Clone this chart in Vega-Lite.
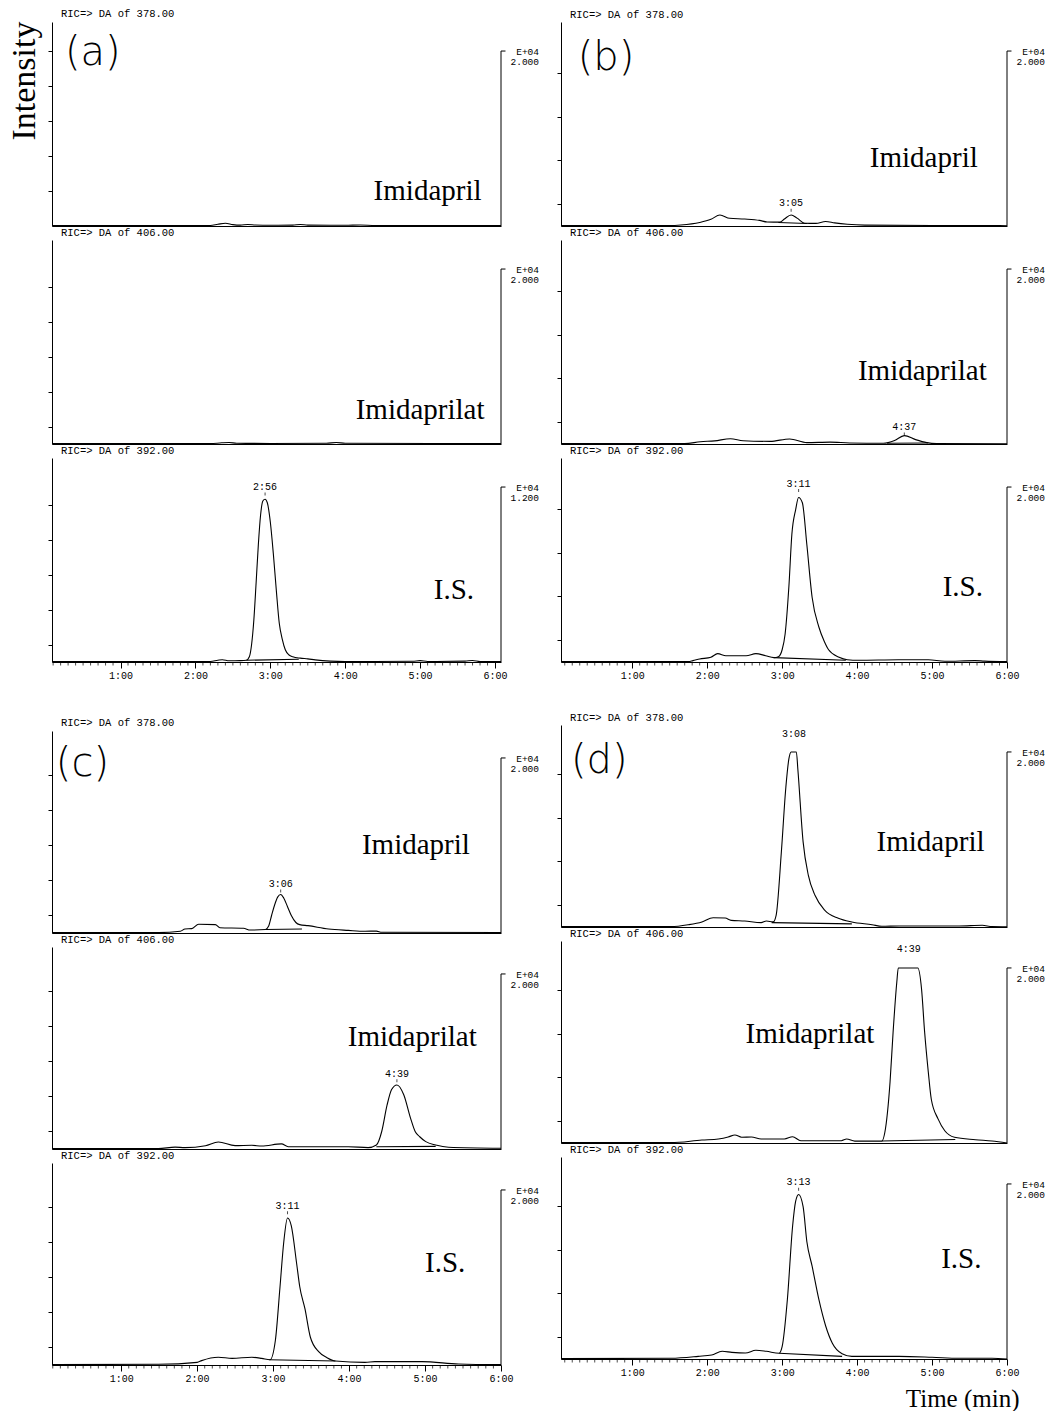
{
"$schema": "https://vega.github.io/schema/vega-lite/v6.json",
"background": "white",
"padding": {"left": 7, "top": 8, "right": 5, "bottom": 0},
"datasets": {
"trace": [
{"p":"a","s":1,"k":"sig","t":0.09,"v":0.2},{"p":"a","s":1,"k":"sig","t":1.5,"v":0.2},{"p":"a","s":1,"k":"sig","t":2.2,"v":0.3},{"p":"a","s":1,"k":"sig","t":2.3,"v":1.0},{"p":"a","s":1,"k":"sig","t":2.4,"v":1.6},{"p":"a","s":1,"k":"sig","t":2.5,"v":0.8},{"p":"a","s":1,"k":"sig","t":2.6,"v":0.5},{"p":"a","s":1,"k":"sig","t":2.7,"v":0.9},{"p":"a","s":1,"k":"sig","t":2.8,"v":0.6},{"p":"a","s":1,"k":"sig","t":3.0,"v":0.4},{"p":"a","s":1,"k":"sig","t":3.3,"v":0.5},{"p":"a","s":1,"k":"sig","t":3.4,"v":0.9},{"p":"a","s":1,"k":"sig","t":3.5,"v":0.5},{"p":"a","s":1,"k":"sig","t":4.0,"v":0.4},{"p":"a","s":1,"k":"sig","t":4.2,"v":0.6},{"p":"a","s":1,"k":"sig","t":4.4,"v":0.3},{"p":"a","s":1,"k":"sig","t":5.0,"v":0.3},{"p":"a","s":1,"k":"sig","t":6.08,"v":0.2},
{"p":"a","s":2,"k":"sig","t":0.09,"v":0.2},{"p":"a","s":2,"k":"sig","t":2.2,"v":0.2},{"p":"a","s":2,"k":"sig","t":2.35,"v":0.7},{"p":"a","s":2,"k":"sig","t":2.45,"v":0.9},{"p":"a","s":2,"k":"sig","t":2.55,"v":0.4},{"p":"a","s":2,"k":"sig","t":3.0,"v":0.3},{"p":"a","s":2,"k":"sig","t":3.75,"v":0.4},{"p":"a","s":2,"k":"sig","t":3.88,"v":0.9},{"p":"a","s":2,"k":"sig","t":4.0,"v":0.4},{"p":"a","s":2,"k":"sig","t":6.08,"v":0.2},
{"p":"a","s":3,"k":"sig","t":0.09,"v":0.2},{"p":"a","s":3,"k":"sig","t":2.2,"v":0.3},{"p":"a","s":3,"k":"sig","t":2.3,"v":1.0},{"p":"a","s":3,"k":"sig","t":2.36,"v":1.3},{"p":"a","s":3,"k":"sig","t":2.45,"v":0.7},{"p":"a","s":3,"k":"sig","t":2.6,"v":0.8},{"p":"a","s":3,"k":"sig","t":2.68,"v":1.0},{"p":"a","s":3,"k":"sig","t":2.72,"v":3},{"p":"a","s":3,"k":"sig","t":2.75,"v":10},{"p":"a","s":3,"k":"sig","t":2.78,"v":24},{"p":"a","s":3,"k":"sig","t":2.81,"v":45},{"p":"a","s":3,"k":"sig","t":2.84,"v":67},{"p":"a","s":3,"k":"sig","t":2.87,"v":84},{"p":"a","s":3,"k":"sig","t":2.9,"v":92},{"p":"a","s":3,"k":"sig","t":2.93,"v":93},{"p":"a","s":3,"k":"sig","t":2.96,"v":91},{"p":"a","s":3,"k":"sig","t":3.0,"v":80},{"p":"a","s":3,"k":"sig","t":3.04,"v":62},{"p":"a","s":3,"k":"sig","t":3.08,"v":41},{"p":"a","s":3,"k":"sig","t":3.12,"v":22},{"p":"a","s":3,"k":"sig","t":3.16,"v":13},{"p":"a","s":3,"k":"sig","t":3.2,"v":7},{"p":"a","s":3,"k":"sig","t":3.25,"v":4},{"p":"a","s":3,"k":"sig","t":3.3,"v":3},{"p":"a","s":3,"k":"sig","t":3.4,"v":2.2},{"p":"a","s":3,"k":"sig","t":3.5,"v":1.8},{"p":"a","s":3,"k":"sig","t":3.6,"v":1.2},{"p":"a","s":3,"k":"sig","t":3.8,"v":0.5},{"p":"a","s":3,"k":"sig","t":4.0,"v":0.3},{"p":"a","s":3,"k":"sig","t":4.9,"v":0.4},{"p":"a","s":3,"k":"sig","t":5.0,"v":0.8},{"p":"a","s":3,"k":"sig","t":5.1,"v":0.3},{"p":"a","s":3,"k":"sig","t":5.6,"v":0.5},{"p":"a","s":3,"k":"sig","t":5.7,"v":0.9},{"p":"a","s":3,"k":"sig","t":5.8,"v":0.3},{"p":"a","s":3,"k":"sig","t":6.08,"v":0.2},
{"p":"a","s":3,"k":"base","t":2.68,"v":1.0},{"p":"a","s":3,"k":"base","t":3.38,"v":1.6},
{"p":"b","s":1,"k":"sig","t":0.05,"v":0.2},{"p":"b","s":1,"k":"sig","t":1.5,"v":0.3},{"p":"b","s":1,"k":"sig","t":1.65,"v":0.6},{"p":"b","s":1,"k":"sig","t":1.9,"v":2.0},{"p":"b","s":1,"k":"sig","t":2.05,"v":3.8},{"p":"b","s":1,"k":"sig","t":2.17,"v":6.3},{"p":"b","s":1,"k":"sig","t":2.3,"v":4.4},{"p":"b","s":1,"k":"sig","t":2.5,"v":4.0},{"p":"b","s":1,"k":"sig","t":2.7,"v":3.2},{"p":"b","s":1,"k":"sig","t":2.8,"v":2.3},{"p":"b","s":1,"k":"sig","t":2.97,"v":2.2},{"p":"b","s":1,"k":"sig","t":3.03,"v":4},{"p":"b","s":1,"k":"sig","t":3.12,"v":6.3},{"p":"b","s":1,"k":"sig","t":3.2,"v":4.5},{"p":"b","s":1,"k":"sig","t":3.3,"v":1.6},{"p":"b","s":1,"k":"sig","t":3.45,"v":1.5},{"p":"b","s":1,"k":"sig","t":3.58,"v":2.6},{"p":"b","s":1,"k":"sig","t":3.7,"v":1.8},{"p":"b","s":1,"k":"sig","t":3.87,"v":1.0},{"p":"b","s":1,"k":"sig","t":4.1,"v":0.5},{"p":"b","s":1,"k":"sig","t":5.0,"v":0.3},{"p":"b","s":1,"k":"sig","t":5.9,"v":0.3},{"p":"b","s":1,"k":"sig","t":6.0,"v":0.1},
{"p":"b","s":1,"k":"base","t":2.95,"v":2.0},{"p":"b","s":1,"k":"base","t":3.33,"v":1.4},
{"p":"b","s":2,"k":"sig","t":0.05,"v":0.2},{"p":"b","s":2,"k":"sig","t":1.7,"v":0.2},{"p":"b","s":2,"k":"sig","t":1.91,"v":1.3},{"p":"b","s":2,"k":"sig","t":2.1,"v":1.8},{"p":"b","s":2,"k":"sig","t":2.31,"v":3.0},{"p":"b","s":2,"k":"sig","t":2.48,"v":1.9},{"p":"b","s":2,"k":"sig","t":2.84,"v":1.5},{"p":"b","s":2,"k":"sig","t":3.1,"v":2.9},{"p":"b","s":2,"k":"sig","t":3.33,"v":0.8},{"p":"b","s":2,"k":"sig","t":3.64,"v":1.1},{"p":"b","s":2,"k":"sig","t":3.9,"v":0.6},{"p":"b","s":2,"k":"sig","t":4.35,"v":0.4},{"p":"b","s":2,"k":"sig","t":4.5,"v":2.0},{"p":"b","s":2,"k":"sig","t":4.63,"v":4.8},{"p":"b","s":2,"k":"sig","t":4.78,"v":2.5},{"p":"b","s":2,"k":"sig","t":4.93,"v":0.8},{"p":"b","s":2,"k":"sig","t":5.06,"v":0.3},{"p":"b","s":2,"k":"sig","t":6.0,"v":0.1},
{"p":"b","s":2,"k":"base","t":4.4,"v":0.4},{"p":"b","s":2,"k":"base","t":4.95,"v":0.6},
{"p":"b","s":3,"k":"sig","t":0.05,"v":0.2},{"p":"b","s":3,"k":"sig","t":1.75,"v":0.3},{"p":"b","s":3,"k":"sig","t":1.81,"v":0.8},{"p":"b","s":3,"k":"sig","t":1.9,"v":1.7},{"p":"b","s":3,"k":"sig","t":2.05,"v":2.7},{"p":"b","s":3,"k":"sig","t":2.14,"v":4.8},{"p":"b","s":3,"k":"sig","t":2.25,"v":3.6},{"p":"b","s":3,"k":"sig","t":2.52,"v":3.6},{"p":"b","s":3,"k":"sig","t":2.65,"v":4.8},{"p":"b","s":3,"k":"sig","t":2.78,"v":3.6},{"p":"b","s":3,"k":"sig","t":2.89,"v":2.5},{"p":"b","s":3,"k":"sig","t":2.95,"v":3},{"p":"b","s":3,"k":"sig","t":3.0,"v":7},{"p":"b","s":3,"k":"sig","t":3.04,"v":16},{"p":"b","s":3,"k":"sig","t":3.09,"v":43},{"p":"b","s":3,"k":"sig","t":3.13,"v":73},{"p":"b","s":3,"k":"sig","t":3.18,"v":87},{"p":"b","s":3,"k":"sig","t":3.22,"v":94},{"p":"b","s":3,"k":"sig","t":3.27,"v":91},{"p":"b","s":3,"k":"sig","t":3.33,"v":67},{"p":"b","s":3,"k":"sig","t":3.4,"v":37},{"p":"b","s":3,"k":"sig","t":3.49,"v":20},{"p":"b","s":3,"k":"sig","t":3.56,"v":12},{"p":"b","s":3,"k":"sig","t":3.62,"v":7},{"p":"b","s":3,"k":"sig","t":3.76,"v":2.7},{"p":"b","s":3,"k":"sig","t":3.87,"v":1.3},{"p":"b","s":3,"k":"sig","t":4.02,"v":1.0},{"p":"b","s":3,"k":"sig","t":4.55,"v":1.3},{"p":"b","s":3,"k":"sig","t":4.95,"v":1.3},{"p":"b","s":3,"k":"sig","t":5.17,"v":0.4},{"p":"b","s":3,"k":"sig","t":5.57,"v":0.8},{"p":"b","s":3,"k":"sig","t":5.7,"v":0.5},{"p":"b","s":3,"k":"sig","t":6.0,"v":0.2},
{"p":"b","s":3,"k":"base","t":2.89,"v":2.5},{"p":"b","s":3,"k":"base","t":3.85,"v":1.0},
{"p":"c","s":1,"k":"sig","t":0.09,"v":0.2},{"p":"c","s":1,"k":"sig","t":1.49,"v":0.2},{"p":"c","s":1,"k":"sig","t":1.78,"v":1.0},{"p":"c","s":1,"k":"sig","t":1.84,"v":2.3},{"p":"c","s":1,"k":"sig","t":1.93,"v":2.5},{"p":"c","s":1,"k":"sig","t":2.02,"v":5},{"p":"c","s":1,"k":"sig","t":2.24,"v":4.8},{"p":"c","s":1,"k":"sig","t":2.3,"v":3},{"p":"c","s":1,"k":"sig","t":2.61,"v":2.7},{"p":"c","s":1,"k":"sig","t":2.7,"v":1.7},{"p":"c","s":1,"k":"sig","t":2.9,"v":2.0},{"p":"c","s":1,"k":"sig","t":2.94,"v":3.8},{"p":"c","s":1,"k":"sig","t":2.98,"v":10},{"p":"c","s":1,"k":"sig","t":3.02,"v":16},{"p":"c","s":1,"k":"sig","t":3.06,"v":20.5},{"p":"c","s":1,"k":"sig","t":3.1,"v":22},{"p":"c","s":1,"k":"sig","t":3.14,"v":20},{"p":"c","s":1,"k":"sig","t":3.19,"v":15},{"p":"c","s":1,"k":"sig","t":3.24,"v":10},{"p":"c","s":1,"k":"sig","t":3.3,"v":6},{"p":"c","s":1,"k":"sig","t":3.35,"v":4.8},{"p":"c","s":1,"k":"sig","t":3.46,"v":4.2},{"p":"c","s":1,"k":"sig","t":3.73,"v":2.3},{"p":"c","s":1,"k":"sig","t":3.99,"v":1.5},{"p":"c","s":1,"k":"sig","t":4.21,"v":1.0},{"p":"c","s":1,"k":"sig","t":4.36,"v":1.1},{"p":"c","s":1,"k":"sig","t":4.43,"v":0.4},{"p":"c","s":1,"k":"sig","t":6.0,"v":0.3},
{"p":"c","s":1,"k":"base","t":2.9,"v":2.0},{"p":"c","s":1,"k":"base","t":3.38,"v":2.3},
{"p":"c","s":2,"k":"sig","t":0.09,"v":0.2},{"p":"c","s":2,"k":"sig","t":1.49,"v":0.2},{"p":"c","s":2,"k":"sig","t":1.71,"v":1.1},{"p":"c","s":2,"k":"sig","t":1.84,"v":0.8},{"p":"c","s":2,"k":"sig","t":2.11,"v":1.9},{"p":"c","s":2,"k":"sig","t":2.28,"v":4},{"p":"c","s":2,"k":"sig","t":2.5,"v":1.9},{"p":"c","s":2,"k":"sig","t":2.72,"v":2.1},{"p":"c","s":2,"k":"sig","t":2.85,"v":1.7},{"p":"c","s":2,"k":"sig","t":3.11,"v":2.9},{"p":"c","s":2,"k":"sig","t":3.2,"v":1.3},{"p":"c","s":2,"k":"sig","t":3.99,"v":1.3},{"p":"c","s":2,"k":"sig","t":4.25,"v":0.8},{"p":"c","s":2,"k":"sig","t":4.36,"v":2.3},{"p":"c","s":2,"k":"sig","t":4.43,"v":10},{"p":"c","s":2,"k":"sig","t":4.5,"v":25},{"p":"c","s":2,"k":"sig","t":4.56,"v":34},{"p":"c","s":2,"k":"sig","t":4.63,"v":36.6},{"p":"c","s":2,"k":"sig","t":4.72,"v":31},{"p":"c","s":2,"k":"sig","t":4.81,"v":17.5},{"p":"c","s":2,"k":"sig","t":4.87,"v":10},{"p":"c","s":2,"k":"sig","t":4.93,"v":7},{"p":"c","s":2,"k":"sig","t":5.01,"v":4.2},{"p":"c","s":2,"k":"sig","t":5.14,"v":2.3},{"p":"c","s":2,"k":"sig","t":5.31,"v":1.0},{"p":"c","s":2,"k":"sig","t":6.0,"v":0.4},
{"p":"c","s":2,"k":"base","t":4.36,"v":1.3},{"p":"c","s":2,"k":"base","t":5.14,"v":1.5},
{"p":"c","s":3,"k":"sig","t":0.09,"v":0.2},{"p":"c","s":3,"k":"sig","t":1.49,"v":0.4},{"p":"c","s":3,"k":"sig","t":2.0,"v":1.5},{"p":"c","s":3,"k":"sig","t":2.06,"v":2.5},{"p":"c","s":3,"k":"sig","t":2.28,"v":4.4},{"p":"c","s":3,"k":"sig","t":2.46,"v":3.8},{"p":"c","s":3,"k":"sig","t":2.72,"v":4.4},{"p":"c","s":3,"k":"sig","t":2.85,"v":3.8},{"p":"c","s":3,"k":"sig","t":2.96,"v":3},{"p":"c","s":3,"k":"sig","t":3.03,"v":14},{"p":"c","s":3,"k":"sig","t":3.09,"v":44},{"p":"c","s":3,"k":"sig","t":3.14,"v":70},{"p":"c","s":3,"k":"sig","t":3.19,"v":84},{"p":"c","s":3,"k":"sig","t":3.24,"v":79.5},{"p":"c","s":3,"k":"sig","t":3.31,"v":58},{"p":"c","s":3,"k":"sig","t":3.35,"v":45},{"p":"c","s":3,"k":"sig","t":3.42,"v":32},{"p":"c","s":3,"k":"sig","t":3.49,"v":16},{"p":"c","s":3,"k":"sig","t":3.6,"v":7.6},{"p":"c","s":3,"k":"sig","t":3.71,"v":4.2},{"p":"c","s":3,"k":"sig","t":3.82,"v":2.3},{"p":"c","s":3,"k":"sig","t":4.21,"v":1.5},{"p":"c","s":3,"k":"sig","t":4.34,"v":1.9},{"p":"c","s":3,"k":"sig","t":4.96,"v":1.9},{"p":"c","s":3,"k":"sig","t":5.44,"v":0.6},{"p":"c","s":3,"k":"sig","t":6.0,"v":0.2},
{"p":"c","s":3,"k":"base","t":2.95,"v":3.0},{"p":"c","s":3,"k":"base","t":3.82,"v":2.3},
{"p":"d","s":1,"k":"sig","t":0.05,"v":0.2},{"p":"d","s":1,"k":"sig","t":1.52,"v":0.2},{"p":"d","s":1,"k":"sig","t":1.75,"v":1.3},{"p":"d","s":1,"k":"sig","t":1.93,"v":2.9},{"p":"d","s":1,"k":"sig","t":2.08,"v":5.3},{"p":"d","s":1,"k":"sig","t":2.24,"v":5.1},{"p":"d","s":1,"k":"sig","t":2.32,"v":3.8},{"p":"d","s":1,"k":"sig","t":2.5,"v":3.4},{"p":"d","s":1,"k":"sig","t":2.72,"v":2.5},{"p":"d","s":1,"k":"sig","t":2.79,"v":3.4},{"p":"d","s":1,"k":"sig","t":2.88,"v":2.9},{"p":"d","s":1,"k":"sig","t":2.92,"v":6.7},{"p":"d","s":1,"k":"sig","t":2.99,"v":43},{"p":"d","s":1,"k":"sig","t":3.05,"v":80},{"p":"d","s":1,"k":"sig","t":3.09,"v":96},{"p":"d","s":1,"k":"sig","t":3.12,"v":100},{"p":"d","s":1,"k":"sig","t":3.19,"v":100},{"p":"d","s":1,"k":"sig","t":3.21,"v":90},{"p":"d","s":1,"k":"sig","t":3.28,"v":48.6},{"p":"d","s":1,"k":"sig","t":3.35,"v":29.5},{"p":"d","s":1,"k":"sig","t":3.44,"v":18},{"p":"d","s":1,"k":"sig","t":3.57,"v":9.5},{"p":"d","s":1,"k":"sig","t":3.75,"v":5},{"p":"d","s":1,"k":"sig","t":3.93,"v":2.9},{"p":"d","s":1,"k":"sig","t":4.2,"v":1.3},{"p":"d","s":1,"k":"sig","t":4.33,"v":0.4},{"p":"d","s":1,"k":"sig","t":4.56,"v":0.6},{"p":"d","s":1,"k":"sig","t":5.36,"v":0.6},{"p":"d","s":1,"k":"sig","t":5.67,"v":1.0},{"p":"d","s":1,"k":"sig","t":5.8,"v":0.2},{"p":"d","s":1,"k":"sig","t":6.0,"v":0.1},
{"p":"d","s":1,"k":"base","t":2.86,"v":2.5},{"p":"d","s":1,"k":"base","t":3.93,"v":1.8},
{"p":"d","s":2,"k":"sig","t":0.05,"v":0.2},{"p":"d","s":2,"k":"sig","t":1.52,"v":0.2},{"p":"d","s":2,"k":"sig","t":1.93,"v":1.7},{"p":"d","s":2,"k":"sig","t":2.15,"v":2.3},{"p":"d","s":2,"k":"sig","t":2.28,"v":3.4},{"p":"d","s":2,"k":"sig","t":2.37,"v":4.6},{"p":"d","s":2,"k":"sig","t":2.46,"v":3.3},{"p":"d","s":2,"k":"sig","t":2.59,"v":3.4},{"p":"d","s":2,"k":"sig","t":2.72,"v":2.3},{"p":"d","s":2,"k":"sig","t":3.03,"v":2.3},{"p":"d","s":2,"k":"sig","t":3.14,"v":3.6},{"p":"d","s":2,"k":"sig","t":3.25,"v":1.3},{"p":"d","s":2,"k":"sig","t":3.79,"v":1.3},{"p":"d","s":2,"k":"sig","t":3.86,"v":2.3},{"p":"d","s":2,"k":"sig","t":3.97,"v":1.1},{"p":"d","s":2,"k":"sig","t":4.33,"v":1.1},{"p":"d","s":2,"k":"sig","t":4.37,"v":6},{"p":"d","s":2,"k":"sig","t":4.44,"v":35},{"p":"d","s":2,"k":"sig","t":4.48,"v":63},{"p":"d","s":2,"k":"sig","t":4.53,"v":92},{"p":"d","s":2,"k":"sig","t":4.55,"v":100},{"p":"d","s":2,"k":"sig","t":4.81,"v":100},{"p":"d","s":2,"k":"sig","t":4.86,"v":88},{"p":"d","s":2,"k":"sig","t":4.9,"v":64},{"p":"d","s":2,"k":"sig","t":4.95,"v":40.6},{"p":"d","s":2,"k":"sig","t":4.99,"v":25},{"p":"d","s":2,"k":"sig","t":5.08,"v":13.8},{"p":"d","s":2,"k":"sig","t":5.17,"v":7},{"p":"d","s":2,"k":"sig","t":5.3,"v":3.3},{"p":"d","s":2,"k":"sig","t":5.58,"v":1.9},{"p":"d","s":2,"k":"sig","t":5.8,"v":1.1},{"p":"d","s":2,"k":"sig","t":6.0,"v":0},
{"p":"d","s":2,"k":"base","t":4.33,"v":1.1},{"p":"d","s":2,"k":"base","t":5.31,"v":2.0},
{"p":"d","s":3,"k":"sig","t":0.05,"v":0.2},{"p":"d","s":3,"k":"sig","t":1.52,"v":0.4},{"p":"d","s":3,"k":"sig","t":1.88,"v":1.5},{"p":"d","s":3,"k":"sig","t":2.06,"v":2.3},{"p":"d","s":3,"k":"sig","t":2.2,"v":4.4},{"p":"d","s":3,"k":"sig","t":2.33,"v":3.8},{"p":"d","s":3,"k":"sig","t":2.51,"v":3.4},{"p":"d","s":3,"k":"sig","t":2.65,"v":5},{"p":"d","s":3,"k":"sig","t":2.79,"v":4.4},{"p":"d","s":3,"k":"sig","t":2.96,"v":3.3},{"p":"d","s":3,"k":"sig","t":3.0,"v":7},{"p":"d","s":3,"k":"sig","t":3.07,"v":34},{"p":"d","s":3,"k":"sig","t":3.14,"v":76},{"p":"d","s":3,"k":"sig","t":3.18,"v":90},{"p":"d","s":3,"k":"sig","t":3.22,"v":94},{"p":"d","s":3,"k":"sig","t":3.28,"v":87},{"p":"d","s":3,"k":"sig","t":3.33,"v":67},{"p":"d","s":3,"k":"sig","t":3.4,"v":53},{"p":"d","s":3,"k":"sig","t":3.49,"v":34},{"p":"d","s":3,"k":"sig","t":3.58,"v":19},{"p":"d","s":3,"k":"sig","t":3.67,"v":9},{"p":"d","s":3,"k":"sig","t":3.8,"v":3},{"p":"d","s":3,"k":"sig","t":3.93,"v":1.5},{"p":"d","s":3,"k":"sig","t":4.11,"v":1.5},{"p":"d","s":3,"k":"sig","t":4.56,"v":1.5},{"p":"d","s":3,"k":"sig","t":5.0,"v":1.0},{"p":"d","s":3,"k":"sig","t":5.36,"v":0.4},{"p":"d","s":3,"k":"sig","t":5.8,"v":0.4},{"p":"d","s":3,"k":"sig","t":6.0,"v":0},
{"p":"d","s":3,"k":"base","t":2.96,"v":3.3},{"p":"d","s":3,"k":"base","t":3.8,"v":1.5}
],
"peaks": [
{"p":"a","s":3,"t":2.93,"ly":100,"lab":"2:56"},
{"p":"b","s":1,"t":3.12,"ly":13,"lab":"3:05"},
{"p":"b","s":2,"t":4.63,"ly":9.7,"lab":"4:37"},
{"p":"b","s":3,"t":3.22,"ly":102,"lab":"3:11"},
{"p":"c","s":1,"t":3.1,"ly":28,"lab":"3:06"},
{"p":"c","s":2,"t":4.63,"ly":43,"lab":"4:39"},
{"p":"c","s":3,"t":3.19,"ly":91,"lab":"3:11"},
{"p":"d","s":1,"t":3.16,"ly":110,"lab":"3:08"},
{"p":"d","s":2,"t":4.69,"ly":111,"lab":"4:39"},
{"p":"d","s":3,"t":3.22,"ly":101,"lab":"3:13"}
],
"minor": [
{"t":0.1},{"t":0.2},{"t":0.3},{"t":0.4},{"t":0.5},{"t":0.6},{"t":0.7},{"t":0.8},{"t":0.9},{"t":1.1},{"t":1.2},{"t":1.3},{"t":1.4},{"t":1.5},{"t":1.6},{"t":1.7},{"t":1.8},{"t":1.9},{"t":2.1},{"t":2.2},{"t":2.3},{"t":2.4},{"t":2.5},{"t":2.6},{"t":2.7},{"t":2.8},{"t":2.9},{"t":3.1},{"t":3.2},{"t":3.3},{"t":3.4},{"t":3.5},{"t":3.6},{"t":3.7},{"t":3.8},{"t":3.9},{"t":4.1},{"t":4.2},{"t":4.3},{"t":4.4},{"t":4.5},{"t":4.6},{"t":4.7},{"t":4.8},{"t":4.9},{"t":5.1},{"t":5.2},{"t":5.3},{"t":5.4},{"t":5.5},{"t":5.6},{"t":5.7},{"t":5.8},{"t":5.9}
]
},
"config": {
"view": {"stroke": null},
"axis": {"grid": false, "domainColor": "black", "tickColor": "black", "labelColor": "black", "domainWidth": 1, "tickWidth": 1},
"title": {"font": "Liberation Mono", "fontSize": 10.5, "fontWeight": "normal", "anchor": "start", "frame": "group", "offset": 2, "dx": 9, "color": "black"}
},
"spacing": 17,
"hconcat": [
{"spacing": 37, "vconcat": [
{"bounds": "flush", "spacing": 14, "vconcat": [
{"width": 449, "height": 204, "title": "RIC=> DA of 378.00", "layer": [
{"data": {"name": "trace"}, "transform": [{"filter": "datum.p==='a' && datum.s===1"}], "mark": {"type": "line", "color": "black", "strokeWidth": 1.1, "interpolate": "monotone"},
 "encoding": {"x": {"field": "t", "type": "quantitative", "scale": {"domain": [0.085, 6.08], "nice": false, "zero": false}, "axis": {"ticks": false, "labels": false, "title": null}},
  "y": {"field": "v", "type": "quantitative", "scale": {"domain": [0, 116.6], "nice": false}, "axis": {"values": [20,40,60,80,100], "labels": false, "tickSize": 4, "title": "Intensity", "titleFont": "Liberation Serif", "titleFontSize": 34, "titleFontWeight": "normal", "titleColor": "black", "titleAngle": 270, "titleAlign": "right", "titleBaseline": "alphabetic", "titleX": -18, "titleY": -1}},
  "detail": {"field": "k"}}},
{"data": {"values": [{}]}, "mark": {"type": "rule", "color": "black"}, "encoding": {"x": {"datum": 6.08}, "y": {"datum": 0}, "y2": {"datum": 100}}},
{"data": {"values": [{}]}, "mark": {"type": "rule", "color": "black"}, "encoding": {"x": {"datum": 6.08}, "x2": {"datum": 6.14}, "y": {"datum": 100}}},
{"data": {"values": [{}]}, "mark": {"type": "text", "text": ["E+04", "2.000"], "align": "right", "baseline": "middle", "dx": 38, "dy": 1, "font": "Liberation Mono", "fontSize": 9.5, "lineHeight": 10, "color": "black"}, "encoding": {"x": {"datum": 6.08}, "y": {"datum": 100}}},
{"data": {"values": [{}]}, "mark": {"type": "text", "text": "Imidapril", "align": "right", "baseline": "middle", "font": "Liberation Serif", "fontSize": 29, "color": "black"}, "encoding": {"x": {"datum": 5.82}, "y": {"datum": 20}}},
{"data": {"values": [{}]}, "mark": {"type": "text", "text": "(a)", "align": "center", "baseline": "middle", "font": "DejaVu Sans", "fontWeight": 200, "fontSize": 40, "color": "black"}, "encoding": {"x": {"datum": 0.63}, "y": {"datum": 99}}}
]},
{"width": 449, "height": 204, "title": "RIC=> DA of 406.00", "layer": [
{"data": {"name": "trace"}, "transform": [{"filter": "datum.p==='a' && datum.s===2"}], "mark": {"type": "line", "color": "black", "strokeWidth": 1.1, "interpolate": "monotone"},
 "encoding": {"x": {"field": "t", "type": "quantitative", "scale": {"domain": [0.085, 6.08], "nice": false, "zero": false}, "axis": {"ticks": false, "labels": false, "title": null}},
  "y": {"field": "v", "type": "quantitative", "scale": {"domain": [0, 116.6], "nice": false}, "axis": {"values": [10,20,30,40,50,60,70,80,90,100], "labels": false, "tickSize": 4, "title": null}},
  "detail": {"field": "k"}}},
{"data": {"values": [{}]}, "mark": {"type": "rule", "color": "black"}, "encoding": {"x": {"datum": 6.08}, "y": {"datum": 0}, "y2": {"datum": 100}}},
{"data": {"values": [{}]}, "mark": {"type": "rule", "color": "black"}, "encoding": {"x": {"datum": 6.08}, "x2": {"datum": 6.14}, "y": {"datum": 100}}},
{"data": {"values": [{}]}, "mark": {"type": "text", "text": ["E+04", "2.000"], "align": "right", "baseline": "middle", "dx": 38, "dy": 1, "font": "Liberation Mono", "fontSize": 9.5, "lineHeight": 10, "color": "black"}, "encoding": {"x": {"datum": 6.08}, "y": {"datum": 100}}},
{"data": {"values": [{}]}, "mark": {"type": "text", "text": "Imidaprilat", "align": "right", "baseline": "middle", "font": "Liberation Serif", "fontSize": 29, "color": "black"}, "encoding": {"x": {"datum": 5.86}, "y": {"datum": 19.4}}}
]},
{"width": 449, "height": 204, "title": "RIC=> DA of 392.00", "layer": [
{"data": {"name": "trace"}, "transform": [{"filter": "datum.p==='a' && datum.s===3"}], "mark": {"type": "line", "color": "black", "strokeWidth": 1.1, "interpolate": "monotone"},
 "encoding": {"x": {"field": "t", "type": "quantitative", "scale": {"domain": [0.085, 6.08], "nice": false, "zero": false}, "axis": {"values": [1,2,3,4,5,6], "labelExpr": "format(datum.value,'d')+':00'", "tickSize": 6, "labelFont": "Liberation Mono", "labelFontSize": 10, "labelPadding": 2, "labelFlush": false, "title": null}},
  "y": {"field": "v", "type": "quantitative", "scale": {"domain": [0, 116.6], "nice": false}, "axis": {"values": [10,20,30,40,50,60,70,80,90,100], "labels": false, "tickSize": 4, "title": null}},
  "detail": {"field": "k"}}},
{"data": {"name": "minor"}, "mark": {"type": "tick", "orient": "vertical", "size": 3, "thickness": 1, "yOffset": 2, "color": "black"}, "encoding": {"x": {"field": "t", "type": "quantitative"}, "y": {"datum": 0}}},
{"data": {"values": [{}]}, "mark": {"type": "rule", "color": "black"}, "encoding": {"x": {"datum": 6.08}, "y": {"datum": 0}, "y2": {"datum": 100}}},
{"data": {"values": [{}]}, "mark": {"type": "rule", "color": "black"}, "encoding": {"x": {"datum": 6.08}, "x2": {"datum": 6.14}, "y": {"datum": 100}}},
{"data": {"values": [{}]}, "mark": {"type": "text", "text": ["E+04", "1.200"], "align": "right", "baseline": "middle", "dx": 38, "dy": 1, "font": "Liberation Mono", "fontSize": 9.5, "lineHeight": 10, "color": "black"}, "encoding": {"x": {"datum": 6.08}, "y": {"datum": 100}}},
{"data": {"values": [{}]}, "mark": {"type": "text", "text": "I.S.", "align": "right", "baseline": "middle", "font": "Liberation Serif", "fontSize": 29, "color": "black"}, "encoding": {"x": {"datum": 5.72}, "y": {"datum": 41}}},
{"data": {"name": "peaks"}, "transform": [{"filter": "datum.p==='a' && datum.s===3"}], "mark": {"type": "text", "baseline": "middle", "font": "Liberation Mono", "fontSize": 10, "color": "black"}, "encoding": {"x": {"field": "t", "type": "quantitative"}, "y": {"field": "ly", "type": "quantitative"}, "text": {"field": "lab"}}},
{"data": {"name": "peaks"}, "transform": [{"filter": "datum.p==='a' && datum.s===3"}], "mark": {"type": "tick", "orient": "vertical", "size": 3, "thickness": 1, "yOffset": 7, "color": "black"}, "encoding": {"x": {"field": "t", "type": "quantitative"}, "y": {"field": "ly", "type": "quantitative"}}}
]}
]},
{"bounds": "flush", "spacing": 14, "vconcat": [
{"width": 449, "height": 202, "title": "RIC=> DA of 378.00", "layer": [
{"data": {"name": "trace"}, "transform": [{"filter": "datum.p==='c' && datum.s===1"}], "mark": {"type": "line", "color": "black", "strokeWidth": 1.1, "interpolate": "monotone"},
 "encoding": {"x": {"field": "t", "type": "quantitative", "scale": {"domain": [0.09, 6.0], "nice": false, "zero": false}, "axis": {"ticks": false, "labels": false, "title": null}},
  "y": {"field": "v", "type": "quantitative", "scale": {"domain": [0, 115.4], "nice": false}, "axis": {"values": [10,20,30,40,50,60,70,80,90,100], "labels": false, "tickSize": 4, "title": "Intensity", "titleOpacity": 0, "titleFont": "Liberation Serif", "titleFontSize": 34, "titleFontWeight": "normal", "titleAngle": 270, "titleAlign": "right", "titleBaseline": "alphabetic", "titleX": -18, "titleY": -1}},
  "detail": {"field": "k"}}},
{"data": {"values": [{}]}, "mark": {"type": "rule", "color": "black"}, "encoding": {"x": {"datum": 6.0}, "y": {"datum": 0}, "y2": {"datum": 100}}},
{"data": {"values": [{}]}, "mark": {"type": "rule", "color": "black"}, "encoding": {"x": {"datum": 6.0}, "x2": {"datum": 6.06}, "y": {"datum": 100}}},
{"data": {"values": [{}]}, "mark": {"type": "text", "text": ["E+04", "2.000"], "align": "right", "baseline": "middle", "dx": 38, "dy": 1, "font": "Liberation Mono", "fontSize": 9.5, "lineHeight": 10, "color": "black"}, "encoding": {"x": {"datum": 6.0}, "y": {"datum": 100}}},
{"data": {"values": [{}]}, "mark": {"type": "text", "text": "Imidapril", "align": "right", "baseline": "middle", "font": "Liberation Serif", "fontSize": 29, "color": "black"}, "encoding": {"x": {"datum": 5.59}, "y": {"datum": 50}}},
{"data": {"values": [{}]}, "mark": {"type": "text", "text": "(c)", "align": "center", "baseline": "middle", "font": "DejaVu Sans", "fontWeight": 200, "fontSize": 40, "color": "black"}, "encoding": {"x": {"datum": 0.49}, "y": {"datum": 96.6}}},
{"data": {"name": "peaks"}, "transform": [{"filter": "datum.p==='c' && datum.s===1"}], "mark": {"type": "text", "baseline": "middle", "font": "Liberation Mono", "fontSize": 10, "color": "black"}, "encoding": {"x": {"field": "t", "type": "quantitative"}, "y": {"field": "ly", "type": "quantitative"}, "text": {"field": "lab"}}},
{"data": {"name": "peaks"}, "transform": [{"filter": "datum.p==='c' && datum.s===1"}], "mark": {"type": "tick", "orient": "vertical", "size": 3, "thickness": 1, "yOffset": 7, "color": "black"}, "encoding": {"x": {"field": "t", "type": "quantitative"}, "y": {"field": "ly", "type": "quantitative"}}}
]},
{"width": 449, "height": 202, "title": "RIC=> DA of 406.00", "layer": [
{"data": {"name": "trace"}, "transform": [{"filter": "datum.p==='c' && datum.s===2"}], "mark": {"type": "line", "color": "black", "strokeWidth": 1.1, "interpolate": "monotone"},
 "encoding": {"x": {"field": "t", "type": "quantitative", "scale": {"domain": [0.09, 6.0], "nice": false, "zero": false}, "axis": {"ticks": false, "labels": false, "title": null}},
  "y": {"field": "v", "type": "quantitative", "scale": {"domain": [0, 115.4], "nice": false}, "axis": {"values": [10,20,30,40,50,60,70,80,90,100], "labels": false, "tickSize": 4, "title": null}},
  "detail": {"field": "k"}}},
{"data": {"values": [{}]}, "mark": {"type": "rule", "color": "black"}, "encoding": {"x": {"datum": 6.0}, "y": {"datum": 0}, "y2": {"datum": 100}}},
{"data": {"values": [{}]}, "mark": {"type": "rule", "color": "black"}, "encoding": {"x": {"datum": 6.0}, "x2": {"datum": 6.06}, "y": {"datum": 100}}},
{"data": {"values": [{}]}, "mark": {"type": "text", "text": ["E+04", "2.000"], "align": "right", "baseline": "middle", "dx": 38, "dy": 1, "font": "Liberation Mono", "fontSize": 9.5, "lineHeight": 10, "color": "black"}, "encoding": {"x": {"datum": 6.0}, "y": {"datum": 100}}},
{"data": {"values": [{}]}, "mark": {"type": "text", "text": "Imidaprilat", "align": "right", "baseline": "middle", "font": "Liberation Serif", "fontSize": 29, "color": "black"}, "encoding": {"x": {"datum": 5.68}, "y": {"datum": 64}}},
{"data": {"name": "peaks"}, "transform": [{"filter": "datum.p==='c' && datum.s===2"}], "mark": {"type": "text", "baseline": "middle", "font": "Liberation Mono", "fontSize": 10, "color": "black"}, "encoding": {"x": {"field": "t", "type": "quantitative"}, "y": {"field": "ly", "type": "quantitative"}, "text": {"field": "lab"}}},
{"data": {"name": "peaks"}, "transform": [{"filter": "datum.p==='c' && datum.s===2"}], "mark": {"type": "tick", "orient": "vertical", "size": 3, "thickness": 1, "yOffset": 7, "color": "black"}, "encoding": {"x": {"field": "t", "type": "quantitative"}, "y": {"field": "ly", "type": "quantitative"}}}
]},
{"width": 449, "height": 202, "title": "RIC=> DA of 392.00", "layer": [
{"data": {"name": "trace"}, "transform": [{"filter": "datum.p==='c' && datum.s===3"}], "mark": {"type": "line", "color": "black", "strokeWidth": 1.1, "interpolate": "monotone"},
 "encoding": {"x": {"field": "t", "type": "quantitative", "scale": {"domain": [0.09, 6.0], "nice": false, "zero": false}, "axis": {"values": [1,2,3,4,5,6], "labelExpr": "format(datum.value,'d')+':00'", "tickSize": 6, "labelFont": "Liberation Mono", "labelFontSize": 10, "labelPadding": 2, "labelFlush": false, "title": null}},
  "y": {"field": "v", "type": "quantitative", "scale": {"domain": [0, 115.4], "nice": false}, "axis": {"values": [10,20,30,40,50,60,70,80,90,100], "labels": false, "tickSize": 4, "title": null}},
  "detail": {"field": "k"}}},
{"data": {"name": "minor"}, "mark": {"type": "tick", "orient": "vertical", "size": 3, "thickness": 1, "yOffset": 2, "color": "black"}, "encoding": {"x": {"field": "t", "type": "quantitative"}, "y": {"datum": 0}}},
{"data": {"values": [{}]}, "mark": {"type": "rule", "color": "black"}, "encoding": {"x": {"datum": 6.0}, "y": {"datum": 0}, "y2": {"datum": 100}}},
{"data": {"values": [{}]}, "mark": {"type": "rule", "color": "black"}, "encoding": {"x": {"datum": 6.0}, "x2": {"datum": 6.06}, "y": {"datum": 100}}},
{"data": {"values": [{}]}, "mark": {"type": "text", "text": ["E+04", "2.000"], "align": "right", "baseline": "middle", "dx": 38, "dy": 1, "font": "Liberation Mono", "fontSize": 9.5, "lineHeight": 10, "color": "black"}, "encoding": {"x": {"datum": 6.0}, "y": {"datum": 100}}},
{"data": {"values": [{}]}, "mark": {"type": "text", "text": "I.S.", "align": "right", "baseline": "middle", "font": "Liberation Serif", "fontSize": 29, "color": "black"}, "encoding": {"x": {"datum": 5.53}, "y": {"datum": 58}}},
{"data": {"name": "peaks"}, "transform": [{"filter": "datum.p==='c' && datum.s===3"}], "mark": {"type": "text", "baseline": "middle", "font": "Liberation Mono", "fontSize": 10, "color": "black"}, "encoding": {"x": {"field": "t", "type": "quantitative"}, "y": {"field": "ly", "type": "quantitative"}, "text": {"field": "lab"}}},
{"data": {"name": "peaks"}, "transform": [{"filter": "datum.p==='c' && datum.s===3"}], "mark": {"type": "tick", "orient": "vertical", "size": 3, "thickness": 1, "yOffset": 7, "color": "black"}, "encoding": {"x": {"field": "t", "type": "quantitative"}, "y": {"field": "ly", "type": "quantitative"}}}
]}
]}
]},
{"spacing": 32, "vconcat": [
{"bounds": "flush", "spacing": 14, "vconcat": [
{"width": 446, "height": 204, "title": "RIC=> DA of 378.00", "layer": [
{"data": {"name": "trace"}, "transform": [{"filter": "datum.p==='b' && datum.s===1"}], "mark": {"type": "line", "color": "black", "strokeWidth": 1.1, "interpolate": "monotone"},
 "encoding": {"x": {"field": "t", "type": "quantitative", "scale": {"domain": [0.05, 6.0], "nice": false, "zero": false}, "axis": {"ticks": false, "labels": false, "title": null}},
  "y": {"field": "v", "type": "quantitative", "scale": {"domain": [0, 116.6], "nice": false}, "axis": {"values": [12.5,25,37.5,50,62.5,75,87.5,100], "labels": false, "tickSize": 4, "title": null}},
  "detail": {"field": "k"}}},
{"data": {"values": [{}]}, "mark": {"type": "rule", "color": "black"}, "encoding": {"x": {"datum": 6.0}, "y": {"datum": 0}, "y2": {"datum": 100}}},
{"data": {"values": [{}]}, "mark": {"type": "rule", "color": "black"}, "encoding": {"x": {"datum": 6.0}, "x2": {"datum": 6.06}, "y": {"datum": 100}}},
{"data": {"values": [{}]}, "mark": {"type": "text", "text": ["E+04", "2.000"], "align": "right", "baseline": "middle", "dx": 38, "dy": 1, "font": "Liberation Mono", "fontSize": 9.5, "lineHeight": 10, "color": "black"}, "encoding": {"x": {"datum": 6.0}, "y": {"datum": 100}}},
{"data": {"values": [{}]}, "mark": {"type": "text", "text": "Imidapril", "align": "right", "baseline": "middle", "font": "Liberation Serif", "fontSize": 29, "color": "black"}, "encoding": {"x": {"datum": 5.61}, "y": {"datum": 39}}},
{"data": {"values": [{}]}, "mark": {"type": "text", "text": "(b)", "align": "center", "baseline": "middle", "font": "DejaVu Sans", "fontWeight": 200, "fontSize": 40, "color": "black"}, "encoding": {"x": {"datum": 0.65}, "y": {"datum": 96}}},
{"data": {"name": "peaks"}, "transform": [{"filter": "datum.p==='b' && datum.s===1"}], "mark": {"type": "text", "baseline": "middle", "font": "Liberation Mono", "fontSize": 10, "color": "black"}, "encoding": {"x": {"field": "t", "type": "quantitative"}, "y": {"field": "ly", "type": "quantitative"}, "text": {"field": "lab"}}},
{"data": {"name": "peaks"}, "transform": [{"filter": "datum.p==='b' && datum.s===1"}], "mark": {"type": "tick", "orient": "vertical", "size": 3, "thickness": 1, "yOffset": 7, "color": "black"}, "encoding": {"x": {"field": "t", "type": "quantitative"}, "y": {"field": "ly", "type": "quantitative"}}}
]},
{"width": 446, "height": 204, "title": "RIC=> DA of 406.00", "layer": [
{"data": {"name": "trace"}, "transform": [{"filter": "datum.p==='b' && datum.s===2"}], "mark": {"type": "line", "color": "black", "strokeWidth": 1.1, "interpolate": "monotone"},
 "encoding": {"x": {"field": "t", "type": "quantitative", "scale": {"domain": [0.05, 6.0], "nice": false, "zero": false}, "axis": {"ticks": false, "labels": false, "title": null}},
  "y": {"field": "v", "type": "quantitative", "scale": {"domain": [0, 116.6], "nice": false}, "axis": {"values": [12.5,25,37.5,50,62.5,75,87.5,100], "labels": false, "tickSize": 4, "title": null}},
  "detail": {"field": "k"}}},
{"data": {"values": [{}]}, "mark": {"type": "rule", "color": "black"}, "encoding": {"x": {"datum": 6.0}, "y": {"datum": 0}, "y2": {"datum": 100}}},
{"data": {"values": [{}]}, "mark": {"type": "rule", "color": "black"}, "encoding": {"x": {"datum": 6.0}, "x2": {"datum": 6.06}, "y": {"datum": 100}}},
{"data": {"values": [{}]}, "mark": {"type": "text", "text": ["E+04", "2.000"], "align": "right", "baseline": "middle", "dx": 38, "dy": 1, "font": "Liberation Mono", "fontSize": 9.5, "lineHeight": 10, "color": "black"}, "encoding": {"x": {"datum": 6.0}, "y": {"datum": 100}}},
{"data": {"values": [{}]}, "mark": {"type": "text", "text": "Imidaprilat", "align": "right", "baseline": "middle", "font": "Liberation Serif", "fontSize": 29, "color": "black"}, "encoding": {"x": {"datum": 5.73}, "y": {"datum": 42}}},
{"data": {"name": "peaks"}, "transform": [{"filter": "datum.p==='b' && datum.s===2"}], "mark": {"type": "text", "baseline": "middle", "font": "Liberation Mono", "fontSize": 10, "color": "black"}, "encoding": {"x": {"field": "t", "type": "quantitative"}, "y": {"field": "ly", "type": "quantitative"}, "text": {"field": "lab"}}},
{"data": {"name": "peaks"}, "transform": [{"filter": "datum.p==='b' && datum.s===2"}], "mark": {"type": "tick", "orient": "vertical", "size": 3, "thickness": 1, "yOffset": 7, "color": "black"}, "encoding": {"x": {"field": "t", "type": "quantitative"}, "y": {"field": "ly", "type": "quantitative"}}}
]},
{"width": 446, "height": 204, "title": "RIC=> DA of 392.00", "layer": [
{"data": {"name": "trace"}, "transform": [{"filter": "datum.p==='b' && datum.s===3"}], "mark": {"type": "line", "color": "black", "strokeWidth": 1.1, "interpolate": "monotone"},
 "encoding": {"x": {"field": "t", "type": "quantitative", "scale": {"domain": [0.05, 6.0], "nice": false, "zero": false}, "axis": {"values": [1,2,3,4,5,6], "labelExpr": "format(datum.value,'d')+':00'", "tickSize": 6, "labelFont": "Liberation Mono", "labelFontSize": 10, "labelPadding": 2, "labelFlush": false, "title": null}},
  "y": {"field": "v", "type": "quantitative", "scale": {"domain": [0, 116.6], "nice": false}, "axis": {"values": [12.5,25,37.5,50,62.5,75,87.5,100], "labels": false, "tickSize": 4, "title": null}},
  "detail": {"field": "k"}}},
{"data": {"name": "minor"}, "mark": {"type": "tick", "orient": "vertical", "size": 3, "thickness": 1, "yOffset": 2, "color": "black"}, "encoding": {"x": {"field": "t", "type": "quantitative"}, "y": {"datum": 0}}},
{"data": {"values": [{}]}, "mark": {"type": "rule", "color": "black"}, "encoding": {"x": {"datum": 6.0}, "y": {"datum": 0}, "y2": {"datum": 100}}},
{"data": {"values": [{}]}, "mark": {"type": "rule", "color": "black"}, "encoding": {"x": {"datum": 6.0}, "x2": {"datum": 6.06}, "y": {"datum": 100}}},
{"data": {"values": [{}]}, "mark": {"type": "text", "text": ["E+04", "2.000"], "align": "right", "baseline": "middle", "dx": 38, "dy": 1, "font": "Liberation Mono", "fontSize": 9.5, "lineHeight": 10, "color": "black"}, "encoding": {"x": {"datum": 6.0}, "y": {"datum": 100}}},
{"data": {"values": [{}]}, "mark": {"type": "text", "text": "I.S.", "align": "right", "baseline": "middle", "font": "Liberation Serif", "fontSize": 29, "color": "black"}, "encoding": {"x": {"datum": 5.68}, "y": {"datum": 42.7}}},
{"data": {"name": "peaks"}, "transform": [{"filter": "datum.p==='b' && datum.s===3"}], "mark": {"type": "text", "baseline": "middle", "font": "Liberation Mono", "fontSize": 10, "color": "black"}, "encoding": {"x": {"field": "t", "type": "quantitative"}, "y": {"field": "ly", "type": "quantitative"}, "text": {"field": "lab"}}},
{"data": {"name": "peaks"}, "transform": [{"filter": "datum.p==='b' && datum.s===3"}], "mark": {"type": "tick", "orient": "vertical", "size": 3, "thickness": 1, "yOffset": 7, "color": "black"}, "encoding": {"x": {"field": "t", "type": "quantitative"}, "y": {"field": "ly", "type": "quantitative"}}}
]}
]},
{"bounds": "flush", "spacing": 14, "vconcat": [
{"width": 446, "height": 202, "title": "RIC=> DA of 378.00", "layer": [
{"data": {"name": "trace"}, "transform": [{"filter": "datum.p==='d' && datum.s===1"}], "mark": {"type": "line", "color": "black", "strokeWidth": 1.1, "interpolate": "monotone"},
 "encoding": {"x": {"field": "t", "type": "quantitative", "scale": {"domain": [0.05, 6.0], "nice": false, "zero": false}, "axis": {"ticks": false, "labels": false, "title": null}},
  "y": {"field": "v", "type": "quantitative", "scale": {"domain": [0, 115.4], "nice": false}, "axis": {"values": [12.5,25,37.5,50,62.5,75,87.5,100], "labels": false, "tickSize": 4, "title": null}},
  "detail": {"field": "k"}}},
{"data": {"values": [{}]}, "mark": {"type": "rule", "color": "black"}, "encoding": {"x": {"datum": 6.0}, "y": {"datum": 0}, "y2": {"datum": 100}}},
{"data": {"values": [{}]}, "mark": {"type": "rule", "color": "black"}, "encoding": {"x": {"datum": 6.0}, "x2": {"datum": 6.06}, "y": {"datum": 100}}},
{"data": {"values": [{}]}, "mark": {"type": "text", "text": ["E+04", "2.000"], "align": "right", "baseline": "middle", "dx": 38, "dy": 1, "font": "Liberation Mono", "fontSize": 9.5, "lineHeight": 10, "color": "black"}, "encoding": {"x": {"datum": 6.0}, "y": {"datum": 100}}},
{"data": {"values": [{}]}, "mark": {"type": "text", "text": "Imidapril", "align": "right", "baseline": "middle", "font": "Liberation Serif", "fontSize": 29, "color": "black"}, "encoding": {"x": {"datum": 5.70}, "y": {"datum": 48.6}}},
{"data": {"values": [{}]}, "mark": {"type": "text", "text": "(d)", "align": "center", "baseline": "middle", "font": "DejaVu Sans", "fontWeight": 200, "fontSize": 40, "color": "black"}, "encoding": {"x": {"datum": 0.56}, "y": {"datum": 95}}},
{"data": {"name": "peaks"}, "transform": [{"filter": "datum.p==='d' && datum.s===1"}], "mark": {"type": "text", "baseline": "middle", "font": "Liberation Mono", "fontSize": 10, "color": "black"}, "encoding": {"x": {"field": "t", "type": "quantitative"}, "y": {"field": "ly", "type": "quantitative"}, "text": {"field": "lab"}}}
]},
{"width": 446, "height": 202, "title": "RIC=> DA of 406.00", "layer": [
{"data": {"name": "trace"}, "transform": [{"filter": "datum.p==='d' && datum.s===2"}], "mark": {"type": "line", "color": "black", "strokeWidth": 1.1, "interpolate": "monotone"},
 "encoding": {"x": {"field": "t", "type": "quantitative", "scale": {"domain": [0.05, 6.0], "nice": false, "zero": false}, "axis": {"ticks": false, "labels": false, "title": null}},
  "y": {"field": "v", "type": "quantitative", "scale": {"domain": [0, 115.4], "nice": false}, "axis": {"values": [12.5,25,37.5,50,62.5,75,87.5,100], "labels": false, "tickSize": 4, "title": null}},
  "detail": {"field": "k"}}},
{"data": {"values": [{}]}, "mark": {"type": "rule", "color": "black"}, "encoding": {"x": {"datum": 6.0}, "y": {"datum": 0}, "y2": {"datum": 100}}},
{"data": {"values": [{}]}, "mark": {"type": "rule", "color": "black"}, "encoding": {"x": {"datum": 6.0}, "x2": {"datum": 6.06}, "y": {"datum": 100}}},
{"data": {"values": [{}]}, "mark": {"type": "text", "text": ["E+04", "2.000"], "align": "right", "baseline": "middle", "dx": 38, "dy": 1, "font": "Liberation Mono", "fontSize": 9.5, "lineHeight": 10, "color": "black"}, "encoding": {"x": {"datum": 6.0}, "y": {"datum": 100}}},
{"data": {"values": [{}]}, "mark": {"type": "text", "text": "Imidaprilat", "align": "right", "baseline": "middle", "font": "Liberation Serif", "fontSize": 29, "color": "black"}, "encoding": {"x": {"datum": 4.23}, "y": {"datum": 62}}},
{"data": {"name": "peaks"}, "transform": [{"filter": "datum.p==='d' && datum.s===2"}], "mark": {"type": "text", "baseline": "middle", "font": "Liberation Mono", "fontSize": 10, "color": "black"}, "encoding": {"x": {"field": "t", "type": "quantitative"}, "y": {"field": "ly", "type": "quantitative"}, "text": {"field": "lab"}}}
]},
{"width": 446, "height": 202, "title": "RIC=> DA of 392.00", "layer": [
{"data": {"name": "trace"}, "transform": [{"filter": "datum.p==='d' && datum.s===3"}], "mark": {"type": "line", "color": "black", "strokeWidth": 1.1, "interpolate": "monotone"},
 "encoding": {"x": {"field": "t", "type": "quantitative", "scale": {"domain": [0.05, 6.0], "nice": false, "zero": false}, "axis": {"values": [1,2,3,4,5,6], "labelExpr": "format(datum.value,'d')+':00'", "tickSize": 6, "labelFont": "Liberation Mono", "labelFontSize": 10, "labelPadding": 2, "labelFlush": false, "title": "Time (min)", "titleFont": "Liberation Serif", "titleFontSize": 25, "titleFontWeight": "normal", "titleColor": "black", "titleAngle": 0, "titleAlign": "right", "titleBaseline": "alphabetic", "titleX": 458, "titleY": 47}},
  "y": {"field": "v", "type": "quantitative", "scale": {"domain": [0, 115.4], "nice": false}, "axis": {"values": [12.5,25,37.5,50,62.5,75,87.5,100], "labels": false, "tickSize": 4, "title": null}},
  "detail": {"field": "k"}}},
{"data": {"name": "minor"}, "mark": {"type": "tick", "orient": "vertical", "size": 3, "thickness": 1, "yOffset": 2, "color": "black"}, "encoding": {"x": {"field": "t", "type": "quantitative"}, "y": {"datum": 0}}},
{"data": {"values": [{}]}, "mark": {"type": "rule", "color": "black"}, "encoding": {"x": {"datum": 6.0}, "y": {"datum": 0}, "y2": {"datum": 100}}},
{"data": {"values": [{}]}, "mark": {"type": "rule", "color": "black"}, "encoding": {"x": {"datum": 6.0}, "x2": {"datum": 6.06}, "y": {"datum": 100}}},
{"data": {"values": [{}]}, "mark": {"type": "text", "text": ["E+04", "2.000"], "align": "right", "baseline": "middle", "dx": 38, "dy": 1, "font": "Liberation Mono", "fontSize": 9.5, "lineHeight": 10, "color": "black"}, "encoding": {"x": {"datum": 6.0}, "y": {"datum": 100}}},
{"data": {"values": [{}]}, "mark": {"type": "text", "text": "I.S.", "align": "right", "baseline": "middle", "font": "Liberation Serif", "fontSize": 29, "color": "black"}, "encoding": {"x": {"datum": 5.66}, "y": {"datum": 57}}},
{"data": {"name": "peaks"}, "transform": [{"filter": "datum.p==='d' && datum.s===3"}], "mark": {"type": "text", "baseline": "middle", "font": "Liberation Mono", "fontSize": 10, "color": "black"}, "encoding": {"x": {"field": "t", "type": "quantitative"}, "y": {"field": "ly", "type": "quantitative"}, "text": {"field": "lab"}}},
{"data": {"name": "peaks"}, "transform": [{"filter": "datum.p==='d' && datum.s===3"}], "mark": {"type": "tick", "orient": "vertical", "size": 3, "thickness": 1, "yOffset": 7, "color": "black"}, "encoding": {"x": {"field": "t", "type": "quantitative"}, "y": {"field": "ly", "type": "quantitative"}}}
]}
]}
]}
]
}
